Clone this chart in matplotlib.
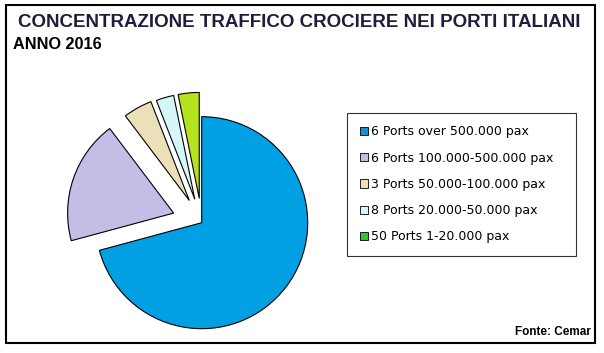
import matplotlib
matplotlib.use("Agg")
import matplotlib.pyplot as plt
from matplotlib.patches import Rectangle, Patch

# ---- data ----
categories = [
    "6 Ports over 500.000 pax",
    "6 Ports 100.000-500.000 pax",
    "3 Ports 50.000-100.000 pax",
    "8 Ports 20.000-50.000 pax",
    "50 Ports 1-20.000 pax",
]
shares = [70.8, 18.9, 4.4, 2.7, 3.2]
title_text = "CONCENTRAZIONE TRAFFICO CROCIERE NEI PORTI ITALIANI"
subtitle_text = "ANNO 2016"
source_text = "Fonte: Cemar"

# ---- style ----
pie_colors = ["#00a0e2", "#c5bde6", "#ece0b9", "#d6f7fa", "#b4e31e"]
legend_colors = ["#1a90d4", "#c5bde6", "#ece0b9", "#d6f7fa", "#33c433"]
explode = [0.0, 0.28, 0.24, 0.23, 0.23]

W, H = 604, 353
fig = plt.figure(figsize=(W / 100, H / 100), dpi=100)
fig.patch.set_facecolor("white")

# pie axes: unit radius = R px, centred at (cx, cy) px from bottom-left
R = 106.0
cx, cy = 201.7, H - 222.7
ax = fig.add_axes([0, 0, 1, 1])
wedges, _ = ax.pie(shares, colors=pie_colors, explode=explode, startangle=90,
                   counterclock=False, radius=1.0,
                   wedgeprops=dict(edgecolor="black", linewidth=0.8))
ax.set_xlim(-cx / R, (W - cx) / R)
ax.set_ylim(-cy / R, (H - cy) / R)
ax.set_axis_off()

# outer frame
fig.patches.append(Rectangle((6 / W, (H - 343) / H), 589 / W, 338 / H,
                             transform=fig.transFigure, fill=False,
                             edgecolor="black", linewidth=1.5, zorder=5))

# titles
bold_font = ["Liberation Sans", "DejaVu Sans"]
t1 = fig.text(18 / W, (H - 27.3) / H, title_text, fontsize=14, fontweight="bold",
              color="#1e1e3c", family=bold_font, va="baseline", ha="left")
t2 = fig.text(13 / W, (H - 49) / H, subtitle_text, fontsize=14, fontweight="bold",
              color="black", family=bold_font, va="baseline", ha="left")
fig.text(591 / W, (H - 332) / H, source_text, fontsize=8.5, fontweight="bold",
         color="black", family=["Liberation Sans", "DejaVu Sans"],
         va="center", ha="right")

# fit title widths to the reference widths (px)
renderer = fig.canvas.get_renderer()
for t, target in ((t1, 563.0), (t2, 89.0)):
    w = t.get_window_extent(renderer).width
    t.set_fontsize(t.get_fontsize() * target / w)

# legend
handles = [Patch(facecolor=c, edgecolor="black", linewidth=0.6) for c in legend_colors]
leg = fig.legend(handles, categories, loc="upper left",
                 bbox_to_anchor=(347 / W, (H - 113) / H, 229 / W, 0.0001),
                 bbox_transform=fig.transFigure, mode="expand",
                 prop=dict(family="DejaVu Sans", size=9),
                 frameon=True, fancybox=False, shadow=False,
                 borderpad=1.0, labelspacing=1.06, handlelength=0.65,
                 handleheight=0.65, handletextpad=0.3, borderaxespad=0)
leg.get_frame().set_edgecolor("black")
leg.get_frame().set_linewidth(0.8)

fig.savefig("out.png", dpi=100, facecolor="white")
